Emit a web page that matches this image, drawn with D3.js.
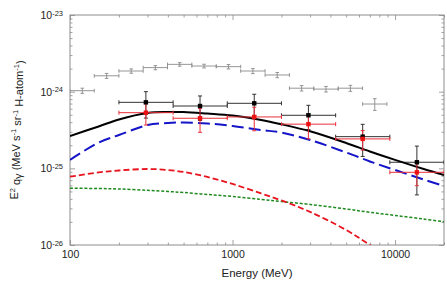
<!DOCTYPE html>
<html><head><meta charset="utf-8">
<script src="https://cdn.jsdelivr.net/npm/d3@7"></script>
<style>
html,body{margin:0;padding:0;background:#fff;}
svg{display:block;font-family:"Liberation Sans",Arial,sans-serif;}
</style></head>
<body><svg id="c" width="447" height="283"></svg>
<script>
// ---- data ----
const xTickLabels = [100, 1000, 10000];
const yTickLabels = ["-26", "-25", "-24", "-23"];
const yTickValues = [1e-26, 1e-25, 1e-24, 1e-23];

// gray data points (bin centre, bin low/high, value, error)
const grayE  = [119, 168, 238, 335, 473, 668, 944, 1334, 1884, 2661, 3758, 5309, 7499];
const grayLo = [100, 141, 200, 282, 398, 562, 794, 1122, 1585, 2239, 3162, 4467, 6310];
const grayHi = [141, 200, 282, 398, 562, 794, 1122, 1585, 2239, 3162, 4467, 6310, 8913];
const grayV  = [1.03e-24, 1.61e-24, 1.86e-24, 2.06e-24, 2.27e-24, 2.16e-24, 2.12e-24, 1.86e-24, 1.65e-24, 1.11e-24, 1.08e-24, 1.11e-24, 0.69e-24];
const grayErr= [0.08e-24, 0.12e-24, 0.12e-24, 0.13e-24, 0.12e-24, 0.12e-24, 0.14e-24, 0.14e-24, 0.13e-24, 0.09e-24, 0.09e-24, 0.10e-24, 0.12e-24];

// black and red data points share energy bins
const binE  = [293, 631, 1360, 2930, 6320, 13620];
const binLo = [200, 431, 928, 2000, 4309, 9283];
const binHi = [431, 928, 2000, 4309, 9283, 20000];
const blackV   = [7.26e-25, 6.50e-25, 7.05e-25, 4.92e-25, 2.59e-25, 1.20e-25];
const blackErr = [2.74e-25, 2.29e-25, 2.20e-25, 1.72e-25, 1.16e-25, 0.75e-25];
const redV     = [5.32e-25, 4.50e-25, 4.68e-25, 3.77e-25, 2.42e-25, 0.887e-25];
const redErr   = [1.65e-25, 1.55e-25, 1.59e-25, 1.35e-25, 0.69e-25, 0.293e-25];

// model curves
const curveE = [100, 150, 200, 300, 400, 500, 700, 1000, 1500, 2000, 3000, 5000, 7000, 10000, 15000, 20000];
const totalV = [2.64e-25, 3.52e-25, 4.34e-25, 5.27e-25, 5.43e-25, 5.43e-25, 5.19e-25, 4.89e-25, 4.27e-25, 3.75e-25, 3.04e-25, 2.14e-25, 1.66e-25, 1.29e-25, 9.80e-26, 8.19e-26];
const blueV  = [1.29e-25, 2.17e-25, 2.72e-25, 3.67e-25, 3.90e-25, 3.96e-25, 3.85e-25, 3.56e-25, 3.16e-25, 2.93e-25, 2.34e-25, 1.61e-25, 1.23e-25, 9.51e-26, 7.15e-26, 5.89e-26];
const redCurveE = [100, 150, 200, 300, 400, 500, 700, 1000, 1500, 2000, 3000, 5000, 7000, 10000];
const redCurveV = [7.78e-26, 8.83e-26, 9.37e-26, 9.80e-26, 9.51e-26, 8.96e-26, 7.71e-26, 6.25e-26, 4.70e-26, 3.81e-26, 2.70e-26, 1.57e-26, 1.0e-26, 6.0e-27];
const greenV = [5.49e-26, 5.46e-26, 5.38e-26, 5.17e-26, 4.99e-26, 4.84e-26, 4.56e-26, 4.30e-26, 3.93e-26, 3.69e-26, 3.38e-26, 2.95e-26, 2.67e-26, 2.43e-26, 2.18e-26, 2.01e-26];

// ---- drawing ----
const svg = d3.select("#c");
const L = 70, R = 444, T = 15, B = 245;
const x = d3.scaleLog().domain([100, 20000]).range([L, R]);
const y = d3.scaleLog().domain([1e-26, 1e-23]).range([B, T]);
const frameCol = "#8c8c8c";

svg.append("defs").append("clipPath").attr("id","clip")
  .append("rect").attr("x",L).attr("y",T).attr("width",R-L).attr("height",B-T);

const xMinor = x.ticks().filter(v => !xTickLabels.includes(v));
const yMinor = y.ticks().filter(v => !yTickValues.some(t => Math.abs(t - v) / t < 1e-6));

function styleAxis(g){
  g.select(".domain").remove();
  g.selectAll(".tick line").attr("stroke", frameCol).attr("stroke-width", 0.8);
  g.selectAll("text").attr("fill","#222").style("font-size","10.5px").attr("font-family","Liberation Sans, Arial, sans-serif");
}

// bottom axis
svg.append("g").attr("transform",`translate(0,${B})`)
  .call(d3.axisBottom(x).tickValues(xTickLabels).tickSize(-5).tickPadding(6).tickFormat(d3.format("d")))
  .call(styleAxis);
svg.append("g").attr("transform",`translate(0,${B})`)
  .call(d3.axisBottom(x).tickValues(xMinor).tickSize(-2.5).tickFormat(""))
  .call(styleAxis);
// top axis
svg.append("g").attr("transform",`translate(0,${T})`)
  .call(d3.axisTop(x).tickValues(xTickLabels).tickSize(-5).tickFormat(""))
  .call(styleAxis);
svg.append("g").attr("transform",`translate(0,${T})`)
  .call(d3.axisTop(x).tickValues(xMinor).tickSize(-2.5).tickFormat(""))
  .call(styleAxis);
// left axis
const yl = svg.append("g").attr("transform",`translate(${L},0)`)
  .call(d3.axisLeft(y).tickValues(yTickValues).tickSize(-5).tickPadding(7).tickFormat(() => "10"))
  .call(styleAxis);
yl.selectAll(".tick text").each(function(d, i){
  d3.select(this).append("tspan").attr("dy","-0.45em").style("font-size","7.5px").text(yTickLabels[i]);
});
svg.append("g").attr("transform",`translate(${L},0)`)
  .call(d3.axisLeft(y).tickValues(yMinor).tickSize(-2.5).tickFormat(""))
  .call(styleAxis);
// right axis
svg.append("g").attr("transform",`translate(${R},0)`)
  .call(d3.axisRight(y).tickValues(yTickValues).tickSize(-5).tickFormat(""))
  .call(styleAxis);
svg.append("g").attr("transform",`translate(${R},0)`)
  .call(d3.axisRight(y).tickValues(yMinor).tickSize(-2.5).tickFormat(""))
  .call(styleAxis);

// frame
svg.append("rect").attr("x",L).attr("y",T).attr("width",R-L).attr("height",B-T)
  .attr("fill","none").attr("stroke",frameCol).attr("stroke-width",1);

const plot = svg.append("g").attr("clip-path","url(#clip)");

// error bar helper
function errBars(E, lo, hi, v, err, col, sw, cap){
  const g = plot.append("g").attr("stroke", col).attr("stroke-width", sw).attr("fill","none");
  E.forEach((e, i) => {
    const cx = x(e), cy = y(v[i]);
    const xl = x(lo[i]), xh = x(hi[i]);
    const yt = y(v[i] + err[i]), yb = y(Math.max(v[i] - err[i], 1e-30));
    g.append("line").attr("x1",xl).attr("x2",xh).attr("y1",cy).attr("y2",cy);
    g.append("line").attr("x1",xl).attr("x2",xl).attr("y1",cy-cap).attr("y2",cy+cap);
    g.append("line").attr("x1",xh).attr("x2",xh).attr("y1",cy-cap).attr("y2",cy+cap);
    g.append("line").attr("x1",cx).attr("x2",cx).attr("y1",yt).attr("y2",yb);
    g.append("line").attr("x1",cx-cap).attr("x2",cx+cap).attr("y1",yt).attr("y2",yt);
    g.append("line").attr("x1",cx-cap).attr("x2",cx+cap).attr("y1",yb).attr("y2",yb);
  });
}

// gray points
errBars(grayE, grayLo, grayHi, grayV, grayErr, "#8a8a8a", 0.9, 1.8);

// curves
const line = d3.line().curve(d3.curveCatmullRom.alpha(0.5));
function drawCurve(E, V, col, w, dash){
  plot.append("path")
    .attr("d", line(E.map((e, i) => [x(e), y(V[i])])))
    .attr("fill","none").attr("stroke",col).attr("stroke-width",w)
    .attr("stroke-dasharray", dash);
}
drawCurve(curveE, greenV, "#1e8a1e", 1.5, "3,1.8");
drawCurve(redCurveE, redCurveV, "#e8141e", 1.8, "6,3");
drawCurve(curveE, blueV, "#1414c8", 2, "12,5");

// black and red points
errBars(binE, binLo, binHi, blackV, blackErr, "#333", 1, 2);
drawCurve(curveE, totalV, "#000", 2, null);
errBars(binE, binLo, binHi, redV, redErr, "#e8303a", 1, 2);

plot.append("g").selectAll("rect").data(binE).join("rect")
  .attr("x", (e) => x(e) - 2.2).attr("y", (e, i) => y(blackV[i]) - 2.2)
  .attr("width", 4.4).attr("height", 4.4).attr("fill", "#000");
plot.append("g").selectAll("rect").data(binE).join("rect")
  .attr("x", (e) => x(e) - 2.2).attr("y", (e, i) => y(redV[i]) - 2.2)
  .attr("width", 4.4).attr("height", 4.4).attr("fill", "#ee1111");

// axis titles
svg.append("text").attr("x", 257).attr("y", 277).attr("text-anchor","middle")
  .attr("fill","#222").style("font-size","11.5px").text("Energy (MeV)");

const yt = svg.append("text").attr("transform","translate(18,130) rotate(-90)")
  .attr("text-anchor","middle").attr("fill","#222").style("font-size","11px");
yt.append("tspan").text("E");
yt.append("tspan").attr("dy","-0.45em").style("font-size","7.5px").text("2");
yt.append("tspan").attr("dy","0.45em").text(" q");
yt.append("tspan").attr("dy","0.2em").text("γ");
yt.append("tspan").attr("dy","-0.2em").text(" (MeV s");
yt.append("tspan").attr("dy","-0.45em").style("font-size","7.5px").text("-1");
yt.append("tspan").attr("dy","0.45em").text(" sr");
yt.append("tspan").attr("dy","-0.45em").style("font-size","7.5px").text("-1");
yt.append("tspan").attr("dy","0.45em").text(" H-atom");
yt.append("tspan").attr("dy","-0.45em").style("font-size","7.5px").text("-1");
yt.append("tspan").attr("dy","0.45em").text(")");
</script></body></html>
